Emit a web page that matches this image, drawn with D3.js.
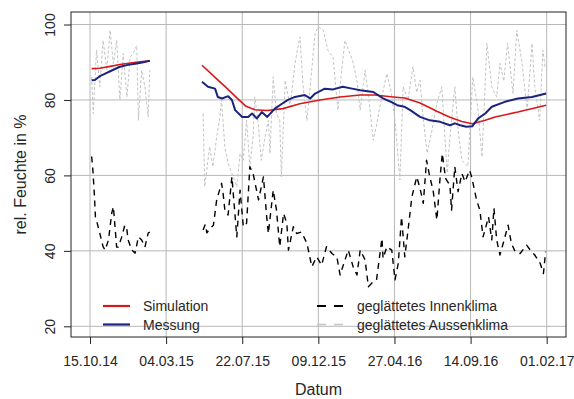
<!DOCTYPE html>
<html><head><meta charset="utf-8">
<script src="https://cdn.jsdelivr.net/npm/d3@7"></script>
<style>
body{margin:0;background:#fff}
text{font-family:"Liberation Sans",Arial,sans-serif;fill:#262626}
</style>
</head><body><svg id="c" width="574" height="399"></svg>
<script>
// ---------- data ----------
const xTickDates = ["2014-10-15","2015-03-04","2015-07-22","2015-12-09","2016-04-27","2016-09-14","2017-02-01"];
const yTicks = [20,40,60,80,100];

const simDates = ["2014-10-18","2014-11-02","2014-11-21","2014-12-09","2014-12-28","2015-01-15","2015-02-02",
 "2015-05-09","2015-06-02","2015-06-26","2015-07-14","2015-07-29","2015-08-14","2015-09-06","2015-10-05","2015-11-05",
 "2015-12-12","2016-01-18","2016-02-24","2016-03-22","2016-04-24","2016-05-16","2016-06-13","2016-06-30","2016-07-14",
 "2016-08-07","2016-08-29","2016-09-17","2016-10-11","2016-10-29","2016-12-10","2017-01-31"];
const simVals = [88.3,88.4,88.9,89.4,89.8,90.1,90.4,
 89.2,86.0,82.8,80.3,78.3,77.4,77.2,77.7,79.0,
 80.0,80.8,81.3,81.3,80.8,80.5,79.2,78.0,77.0,
 75.4,74.3,73.7,74.6,75.5,76.8,78.6];

const messDates = ["2014-10-18","2014-10-24","2014-11-02","2014-11-12","2014-11-21","2014-11-30","2014-12-09","2014-12-24","2015-01-06","2015-01-19","2015-02-02",
 "2015-05-09","2015-05-20","2015-06-02","2015-06-07","2015-06-15","2015-06-26","2015-07-03","2015-07-09","2015-07-22","2015-08-02",
 "2015-08-09","2015-08-18","2015-08-27","2015-09-06","2015-09-20","2015-10-03","2015-10-14","2015-10-27","2015-11-14","2015-11-24",
 "2015-12-03","2015-12-21","2016-01-05","2016-01-23","2016-02-09","2016-02-24","2016-03-19","2016-04-06","2016-04-19","2016-05-02",
 "2016-05-15","2016-05-26","2016-06-13","2016-07-01","2016-07-20","2016-08-07","2016-08-16","2016-08-26","2016-09-06","2016-09-17",
 "2016-09-28","2016-10-11","2016-10-23","2016-11-16","2016-12-10","2017-01-05","2017-01-31"];
const messVals = [85.2,85.3,86.3,87.0,87.6,88.2,88.8,89.3,89.6,89.9,90.4,
 84.8,83.5,83.0,80.8,80.4,81.0,80.0,77.3,75.5,75.5,
 76.4,75.1,76.8,75.5,77.7,79.0,80.0,80.8,81.3,80.4,
 81.7,83.0,82.8,83.5,83.0,82.6,82.1,80.4,79.6,78.6,
 78.2,77.3,75.5,74.6,74.2,73.3,73.8,73.3,72.9,73.0,
 75.1,76.4,78.2,79.5,80.4,80.8,81.7];

const innenDates = ["2014-10-18","2014-10-20","2014-10-23","2014-10-25","2014-10-28","2014-11-02","2014-11-08","2014-11-12","2014-11-18","2014-11-24",
 "2014-11-27","2014-11-30","2014-12-03","2014-12-06","2014-12-12","2014-12-18","2014-12-22","2014-12-24","2014-12-31","2015-01-06",
 "2015-01-12","2015-01-18","2015-01-24","2015-01-30","2015-02-02",
 "2015-05-11","2015-05-15","2015-05-18","2015-05-24","2015-05-30","2015-06-05","2015-06-14","2015-06-17","2015-06-20","2015-06-26",
 "2015-07-03","2015-07-12","2015-07-18","2015-07-24","2015-07-30","2015-08-05","2015-08-11","2015-08-21","2015-08-30","2015-09-05",
 "2015-09-08","2015-09-17","2015-09-23","2015-09-29","2015-10-06","2015-10-12","2015-10-15","2015-10-24","2015-10-30","2015-11-08",
 "2015-11-18","2015-11-27","2015-12-06","2015-12-15","2015-12-24","2016-01-03","2016-01-12","2016-01-18","2016-01-27","2016-02-02",
 "2016-02-11","2016-02-18","2016-02-24","2016-03-04","2016-03-10","2016-03-19","2016-03-25","2016-04-04","2016-04-06","2016-04-13",
 "2016-04-22","2016-04-28","2016-05-04","2016-05-10","2016-05-16","2016-05-22","2016-05-29","2016-06-07","2016-06-13","2016-06-19",
 "2016-06-25","2016-07-01","2016-07-07","2016-07-14","2016-07-20","2016-07-24","2016-07-30","2016-08-07","2016-08-10","2016-08-16",
 "2016-08-22","2016-08-29","2016-09-04","2016-09-12","2016-09-16","2016-09-25","2016-10-01","2016-10-07","2016-10-17","2016-10-23",
 "2016-10-27","2016-11-01","2016-11-07","2016-11-13","2016-11-22","2016-11-28","2016-12-05","2016-12-14","2016-12-26","2017-01-04",
 "2017-01-10","2017-01-20","2017-01-26","2017-01-30"];
const innenVals = [65,62,55,49,47.5,44.7,41.1,40.2,42.9,50,
 51.7,46.4,41,41,43.5,46.8,45.5,42.9,40.2,39.4,
 43.7,42.9,41,44.7,45,
 45.5,47,44.8,46,46.8,53.5,57.9,55,50.8,49.5,
 59.6,43.7,56.1,46.4,47.3,62.3,60.5,53.5,59.6,49,
 44.6,56.1,50.8,41.1,49.9,47.3,40.2,46.4,44.6,45,
 42,35.8,38.4,36.2,41.1,39.3,38.4,33.6,37.6,40.2,
 35.8,33.6,40.2,37.6,30.5,31.8,32.3,43.3,38,41.1,
 40.2,32.3,36.7,49,38.4,45.5,54.3,59.6,56.6,52.6,
 64,59.6,56.1,48.2,59.6,65.8,59.2,57.4,50.8,62.3,
 55.7,60.5,58.3,61.4,59.6,53.5,50.8,43.7,49,42.9,
 51.3,42.9,38.9,42,46.8,42,39.8,39.3,41.5,39.8,
 38.9,36.7,34,39.8];

const aussenDates = ["2014-10-18","2014-10-21","2014-10-27","2014-11-02","2014-11-08","2014-11-15","2014-11-21","2014-11-27","2014-12-03","2014-12-09",
 "2014-12-15","2014-12-22","2014-12-28","2015-01-02","2015-01-09","2015-01-12","2015-01-18","2015-01-24","2015-01-30","2015-02-02",
 "2015-05-11","2015-05-14","2015-05-23","2015-05-29","2015-06-05","2015-06-11","2015-06-14","2015-06-20","2015-06-26","2015-07-03",
 "2015-07-12","2015-07-18","2015-07-24","2015-07-30","2015-08-05","2015-08-11","2015-08-14","2015-08-20","2015-08-26","2015-09-02",
 "2015-09-08","2015-09-11","2015-09-17","2015-09-23","2015-09-29","2015-10-02","2015-10-09","2015-10-18","2015-10-27","2015-11-05",
 "2015-11-11","2015-11-18","2015-11-24","2015-12-03","2015-12-09","2015-12-18","2015-12-27","2016-01-05","2016-01-14","2016-01-21",
 "2016-01-27","2016-02-03","2016-02-10","2016-02-18","2016-02-24","2016-03-04","2016-03-11","2016-03-19","2016-03-26","2016-03-31",
 "2016-04-13","2016-04-21","2016-04-28","2016-05-07","2016-05-13","2016-05-22","2016-05-31","2016-06-07","2016-06-13","2016-06-19",
 "2016-06-26","2016-07-05","2016-07-14","2016-07-23","2016-08-02","2016-08-07","2016-08-16","2016-08-22","2016-08-29","2016-09-09",
 "2016-09-18","2016-09-27","2016-10-05","2016-10-14","2016-10-23","2016-11-01","2016-11-07","2016-11-14","2016-11-21","2016-12-01",
 "2016-12-08","2016-12-17","2016-12-27","2017-01-05","2017-01-10","2017-01-19","2017-01-25","2017-01-29"];
const aussenVals = [86.1,76.4,93.2,83.5,95.8,87.9,98.5,89.7,95.8,80,
 92.3,80.8,91.4,92.3,94.4,74.6,87.9,83.5,75.5,87.9,
 76.4,57,67.6,62.3,70.2,75.5,80,67.6,63.2,60.5,
 57,65.8,64,74.6,62.3,70.2,80.8,74.6,64,70.2,
 74.6,65.8,86.1,76.4,74.6,59.6,85.2,78.2,89.7,96.7,
 83.5,74.6,83.5,97.6,99.4,98.5,93,91.4,77.3,88,
 95.8,93,90.5,85,77.3,87.9,80,69.3,74,78.2,
 87,82,74.6,58.8,83.5,80,88.8,82,85.2,75,
 65.9,72,79.1,83.5,60.6,70,83.5,72,64,62.3,
 86.1,78.2,64.9,95,83.5,80.8,89.7,85,95,81.7,
 98.5,90.5,77.3,95,83.5,74.6,93.2,88.8];

const legendLabels = ["Simulation","Messung","geglättetes Innenklima","geglättetes Aussenklima"];

// ---------- chart ----------
const svg = d3.select("#c");
const parse = d3.timeParse("%Y-%m-%d");
const fmt = d3.timeFormat("%d.%m.%y");
const box = {l:71, t:12, r:566, b:337};

const x = d3.scaleTime()
  .domain([parse(xTickDates[0]), parse(xTickDates[xTickDates.length-1])])
  .range([90, 546.7]);
const y = d3.scaleLinear().domain([20,100]).range([326.3, 24.5]);

// grid
const g = svg.append("g");
g.selectAll("line.vg").data(xTickDates).enter().append("line")
  .attr("x1", d=>x(parse(d))).attr("x2", d=>x(parse(d)))
  .attr("y1", box.t).attr("y2", box.b)
  .attr("stroke","#b8b8b8").attr("stroke-width",1);
g.selectAll("line.hg").data(yTicks).enter().append("line")
  .attr("x1", box.l).attr("x2", box.r)
  .attr("y1", d=>y(d)).attr("y2", d=>y(d))
  .attr("stroke","#b8b8b8").attr("stroke-width",1);

// series helper: split at the measurement gap
function segs(dates, vals){
  const pts = dates.map((d,i)=>({t:parse(d), v:vals[i]}));
  const out=[[]];
  pts.forEach((p,i)=>{
    if(i>0 && (p.t - pts[i-1].t) > 75*864e5) out.push([]);
    out[out.length-1].push(p);
  });
  return out;
}
const line = d3.line().x(p=>x(p.t)).y(p=>y(p.v));

const styles = [
  {dates:aussenDates, vals:aussenVals, color:"#c4c4c4", w:1, dash:"3,2"},
  {dates:innenDates, vals:innenVals, color:"#000", w:1.4, dash:"6,5"},
  {dates:simDates, vals:simVals, color:"#d7191c", w:1.6, dash:null},
  {dates:messDates, vals:messVals, color:"#1a237e", w:2, dash:null}
];
styles.forEach(s=>{
  svg.append("g").selectAll("path").data(segs(s.dates,s.vals)).enter().append("path")
    .attr("d", line).attr("fill","none").attr("stroke", s.color)
    .attr("stroke-width", s.w).attr("stroke-dasharray", s.dash)
    .attr("stroke-linejoin","round");
});

// box
svg.append("rect").attr("x",box.l).attr("y",box.t)
  .attr("width",box.r-box.l).attr("height",box.b-box.t)
  .attr("fill","none").attr("stroke","#222").attr("stroke-width",1);

// x axis
const xa = svg.append("g").attr("transform",`translate(0,${box.b})`)
  .call(d3.axisBottom(x).tickValues(xTickDates.map(parse)).tickFormat(fmt).tickSize(7).tickSizeOuter(0));
xa.select(".domain").remove();
xa.selectAll("line").attr("stroke","#222");
xa.selectAll("text").attr("font-size",14).attr("dy",null).attr("y",28.5)
  .attr("font-family","Liberation Sans, Arial, sans-serif").attr("fill","#262626");

// y axis
const ya = svg.append("g").attr("transform",`translate(${box.l},0)`)
  .call(d3.axisLeft(y).tickValues(yTicks).tickSize(7).tickSizeOuter(0));
ya.select(".domain").remove();
ya.selectAll("line").attr("stroke","#222");
ya.selectAll("text").attr("font-size",14).attr("x",null).attr("dy",null)
  .attr("text-anchor","middle")
  .attr("transform","translate(-16,0) rotate(-90)")
  .attr("font-family","Liberation Sans, Arial, sans-serif").attr("fill","#262626");

// axis titles
svg.append("text").attr("x",(box.l+box.r)/2).attr("y",395).attr("text-anchor","middle")
  .attr("font-size",16).text("Datum");
svg.append("text").attr("transform",`translate(26,${(box.t+box.b)/2}) rotate(-90)`)
  .attr("text-anchor","middle").attr("font-size",16).text("rel. Feuchte in %");

// legend
const lg = svg.append("g");
const legPos = [[103,306],[103,324.5],[317,306],[317,324.5]];
const legSty = [styles[2],styles[3],styles[1],styles[0]];
legendLabels.forEach((lab,i)=>{
  const [lx,ly]=legPos[i], s=legSty[i];
  lg.append("line").attr("x1",lx).attr("x2",lx+27).attr("y1",ly).attr("y2",ly)
    .attr("stroke",s.color).attr("stroke-width",i>=2? (i==2?2:1.5) : 2.2)
    .attr("stroke-dasharray", i>=2 ? "9,8" : null);
  lg.append("text").attr("x",lx+40).attr("y",ly+5).attr("font-size",14).text(lab);
});
</script></body></html>
